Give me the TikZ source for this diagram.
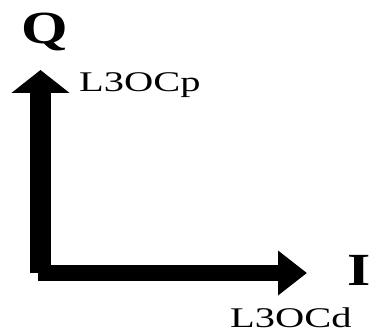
\documentclass[tikz,border=0pt]{standalone}
\usepackage{fontspec}
\setmainfont{Liberation Serif}
\usetikzlibrary{arrows.meta}
\begin{document}
\begin{tikzpicture}[x=1pt,y=-1pt,
  axislabel/.style={inner sep=0pt,anchor=base west,font=\fontsize{46}{46}\selectfont\bfseries},
  sublabel/.style={inner sep=0pt,anchor=base west,font=\fontsize{28.5}{28.5}\selectfont},
  axisarrow/.style={draw=black,line cap=butt}]
\useasboundingbox (0,0) rectangle (372,331);
\coordinate (corner) at (40.5,273);
\coordinate (qtip) at (40.5,70);
\coordinate (hstart) at (38,273);
\coordinate (itip) at (307,273);
\draw[axisarrow,line width=21pt,-{Triangle[length=23pt,width=57pt]}] (corner) -- (qtip);
\draw[axisarrow,line width=16pt,-{Triangle[length=29pt,width=43pt]}] (hstart) -- (itip);
\node[axislabel] (Q) at (21,44) {\scalebox{1.3}[1]{Q}};
\node[axislabel] (I) at (347,285) {\scalebox{1.3}[1]{I}};
\node[sublabel] (p) at (79,92) {\scalebox{1.42}[1]{L3OCp}};
\node[sublabel] (d) at (230,327) {\scalebox{1.42}[1]{L3OCd}};
\end{tikzpicture}
\end{document}
